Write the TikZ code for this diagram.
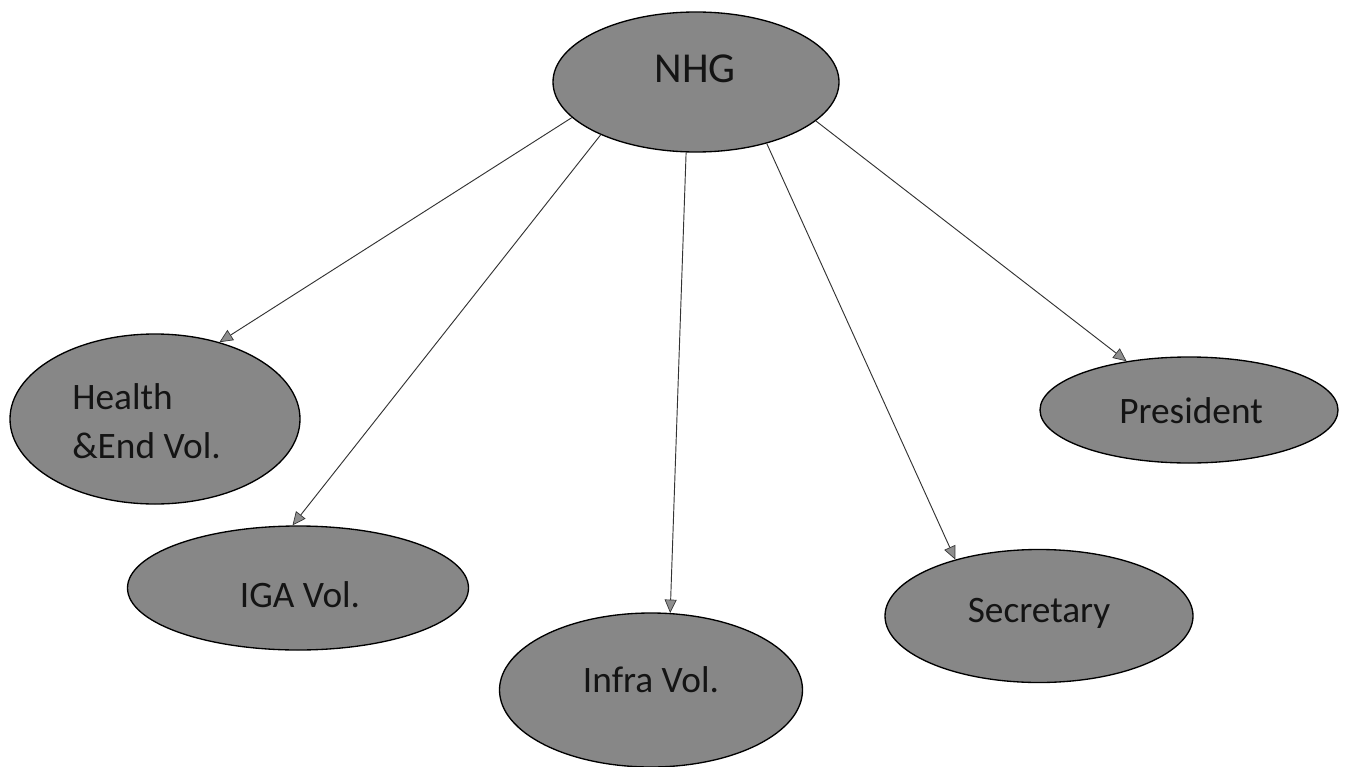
\documentclass[tikz,border=0pt]{standalone}
\usepackage{fontspec}
\setmainfont{Carlito}
\usetikzlibrary{shapes.geometric,arrows.meta}
\definecolor{ellfill}{HTML}{878787}
\definecolor{linec}{HTML}{333333}
\definecolor{tipfill}{HTML}{8E8E8E}
\tikzset{
  oval/.style={ellipse,draw=black,line width=1pt,fill=ellfill,inner sep=0pt},
  lbl/.style={inner sep=0pt,anchor=base,text=black!92,font=\fontsize{28}{34}\selectfont},
  conn/.style={draw=linec,line width=0.7pt,
    -{Triangle[length=10pt,width=9pt,fill=tipfill,line width=0.5pt]}}
}
\begin{document}
\begin{tikzpicture}[x=0.75pt,y=-0.75pt]
\useasboundingbox[fill=white] (0,0) rectangle (1345,767);
% ellipses
\node[oval,minimum width=286*0.75pt,minimum height=140*0.75pt] (nhg) at (696,82) {};
\node[oval,minimum width=290*0.75pt,minimum height=170*0.75pt] (health) at (155,419) {};
\node[oval,minimum width=298*0.75pt,minimum height=106*0.75pt] (pres) at (1189,410) {};
\node[oval,minimum width=341*0.75pt,minimum height=124*0.75pt] (iga) at (298,588) {};
\node[oval,minimum width=303*0.75pt,minimum height=154*0.75pt] (infra) at (651,690) {};
\node[oval,minimum width=308*0.75pt,minimum height=133*0.75pt] (sec) at (1039,616) {};
% labels
\node[lbl,font=\fontsize{32}{38}\selectfont] (nhgT) at (695,83) {NHG};
\node[lbl,anchor=base west] (healthT1) at (72,409) {Health};
\node[lbl,anchor=base west] (healthT2) at (72,458) {\&End Vol.};
\node[lbl] (presT) at (1191,423) {President};
\node[lbl] (igaT) at (300,607) {IGA Vol.};
\node[lbl] (infraT) at (651,692) {Infra Vol.};
\node[lbl] (secT) at (1039,622) {Secretary};
% connectors
\draw[conn] (nhg.196) -- (health.50);
\draw[conn] (nhg.209) -- (iga.95);
\draw[conn] (nhg.262) -- (infra.76);
\draw[conn] (nhg.319) -- (sec.146);
\draw[conn] (nhg.342) -- (pres.142);
\end{tikzpicture}
\end{document}
